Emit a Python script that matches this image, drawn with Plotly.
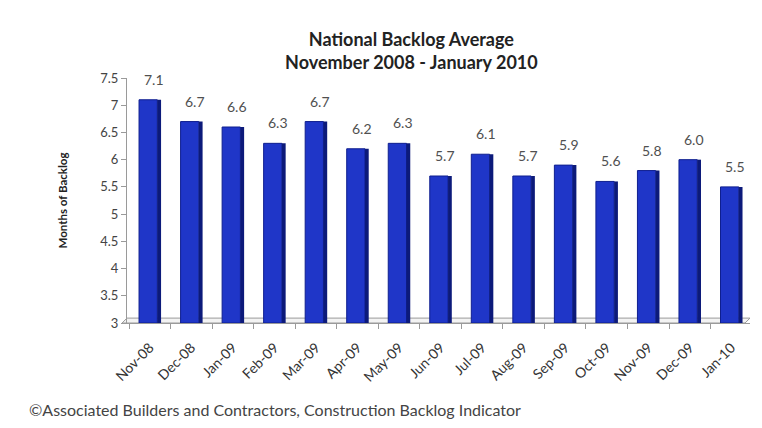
import plotly.graph_objects as go

months = ["Nov-08", "Dec-08", "Jan-09", "Feb-09", "Mar-09", "Apr-09", "May-09", "Jun-09",
          "Jul-09", "Aug-09", "Sep-09", "Oct-09", "Nov-09", "Dec-09", "Jan-10"]
backlog = [7.1, 6.7, 6.6, 6.3, 6.7, 6.2, 6.3, 5.7, 6.1, 5.7, 5.9, 5.6, 5.8, 6.0, 5.5]
y_ticks = [3, 3.5, 4, 4.5, 5, 5.5, 6, 6.5, 7, 7.5]
y_tick_text = ["3", "3.5", "4", "4.5", "5", "5.5", "6", "6.5", "7", "7.5"]

FONT = "Lato, 'Open Sans', sans-serif"

fig = go.Figure()
# front face
fig.add_trace(go.Bar(
    x=months, y=[v - 3 for v in backlog], base=3,
    width=0.44, offset=-0.26,
    marker=dict(color="#1f36c8", line=dict(color="#0f1f8f", width=1)),
    showlegend=False, hoverinfo="x+y",
))
# side face (depth shading)
fig.add_trace(go.Bar(
    x=months, y=[v - 3 for v in backlog], base=3,
    width=0.09, offset=0.18,
    marker=dict(color="#0c1a7a", line=dict(width=0)),
    showlegend=False, hoverinfo="skip",
))

value_labels = [
    dict(x=m, y=v, xref="x", yref="y", text=f"{v:.1f}", showarrow=False,
         yanchor="bottom", yshift=10, xshift=4,
         font=dict(family=FONT, size=14, color="#505050"))
    for m, v in zip(months, backlog)
]

fig.update_layout(
    width=754, height=420,
    margin=dict(l=119, r=12, t=70, b=105, autoexpand=False),
    paper_bgcolor="white", plot_bgcolor="white",
    barmode="overlay",
    title=dict(
        text="<b>National Backlog Average<br>November 2008 - January 2010</b>",
        x=0.535, xanchor="center", yref="container", y=1 - 38 / 420, yanchor="middle",
        font=dict(family=FONT, size=18, color="#222222"),
    ),
    font=dict(family=FONT, color="#333333"),
    xaxis=dict(
        type="category", tickangle=-45, range=[-0.55, 14.45],
        tickfont=dict(family=FONT, size=14, color="#333333"),
        showline=True, linecolor="#9a9a9a", ticks="outside", ticklen=5,
        tickson="boundaries", ticklabelstandoff=10,
        tickcolor="#9a9a9a", showgrid=False, automargin=False,
    ),
    yaxis=dict(
        range=[3, 7.5], tickvals=y_ticks, ticktext=y_tick_text,
        tickfont=dict(family=FONT, size=13, color="#444444"),
        showline=True, linecolor="#9a9a9a", ticks="outside", ticklen=5,
        tickcolor="#9a9a9a", showgrid=False, zeroline=False, automargin=False,
        title=dict(text="<b>Months of Backlog</b>", font=dict(family=FONT, size=11.5, color="#222222"),
                   standoff=30),
    ),
    shapes=[
        # floor of the 3D plot area
        dict(type="path", xref="paper", yref="paper",
             path="M -0.008 0 L 0.0 0.02 L 1.0 0.02 L 0.992 0 Z",
             line=dict(color="#9a9a9a", width=1), fillcolor="rgba(235,235,235,0.6)", layer="below"),
    ],
    annotations=value_labels + [
        dict(text="©Associated Builders and Contractors, Construction Backlog Indicator",
             xref="paper", yref="paper", x=-0.161, y=-0.355, xanchor="left", yanchor="middle",
             showarrow=False, font=dict(family=FONT, size=16, color="#444444")),
    ],
)

fig.write_html("out.html")
